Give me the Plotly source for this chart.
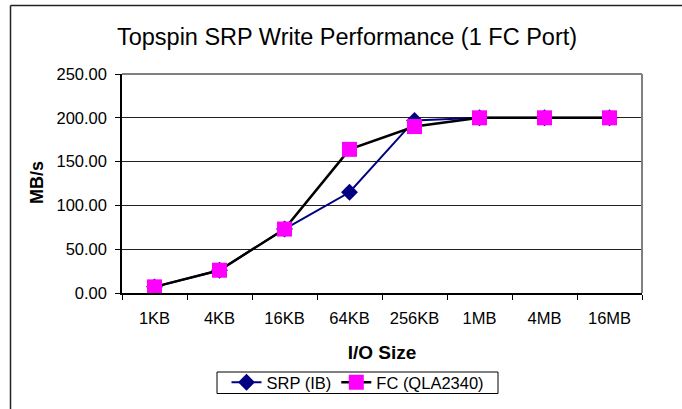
import plotly.graph_objects as go

categories = ["1KB", "4KB", "16KB", "64KB", "256KB", "1MB", "4MB", "16MB"]
srp_ib = [7, 26, 73, 115, 197, 200, 200, 200]
fc_qla2340 = [7, 26, 73, 164, 190, 200, 200, 200]

fig = go.Figure()
fig.add_trace(go.Scatter(
    x=categories, y=srp_ib, name="SRP (IB)", mode="lines+markers",
    line=dict(color="#000080", width=2),
    marker=dict(symbol="diamond", size=13, color="#000080"),
))
fig.add_trace(go.Scatter(
    x=categories, y=fc_qla2340, name="FC (QLA2340)", mode="lines+markers",
    line=dict(color="#000000", width=2.5),
    marker=dict(symbol="square", size=15, color="#FF00FF"),
))

W, H = 682, 409
L, R, T, B = 122, 40, 74, 116
pw, ph = W - L - R, H - T - B

def px_x(x):
    return (x - L) / pw

def px_y(y):
    return (H - B - y) / ph

fig.update_layout(
    width=W, height=H,
    margin=dict(l=L, r=R, t=T, b=B, autoexpand=False),
    paper_bgcolor="white", plot_bgcolor="white",
    font=dict(family="Liberation Sans, Arial, sans-serif", color="black", size=16.5),
    title=dict(text="Topspin SRP Write Performance (1 FC Port)",
               font=dict(size=23.5), x=347 / W, xref="container", xanchor="center",
               y=1 - 37 / H, yref="container", yanchor="middle"),
    showlegend=True,
    legend=dict(orientation="h", x=358 / W, xanchor="center",
                y=1 - 382.5 / H, yanchor="middle", xref="container", yref="container",
                borderwidth=0, bgcolor="rgba(0,0,0,0)",
                font=dict(size=16.5), tracegroupgap=0),
    xaxis=dict(
        type="category", range=[-0.5, 7.5], automargin=False,
        showline=True, linecolor="black", linewidth=1.5,
        ticks="outside", tickson="boundaries", ticklen=5, tickcolor="black",
        showgrid=False, ticklabelstandoff=9,
        title=dict(text="<b>I/O Size</b>", font=dict(size=19), standoff=20),
    ),
    yaxis=dict(
        range=[0, 250], dtick=50, tickformat=".2f", automargin=False,
        showline=True, linecolor="black", linewidth=1.5,
        ticks="outside", ticklen=5, tickcolor="black", ticklabelstandoff=5,
        showgrid=True, gridcolor="#222222", gridwidth=1,
        zeroline=False,
    ),
    annotations=[
        dict(text="<b>MB/s</b>", xref="paper", yref="paper",
             x=px_x(37), y=px_y(183), xanchor="center", yanchor="middle",
             textangle=-90, showarrow=False, font=dict(size=18)),
    ],
    shapes=[
        dict(type="line", xref="paper", yref="paper", x0=0, x1=1, y0=1, y1=1,
             line=dict(color="#808080", width=2)),
        dict(type="line", xref="paper", yref="paper", x0=1, x1=1, y0=0, y1=1,
             line=dict(color="#808080", width=2)),
        dict(type="line", xref="paper", yref="paper",
             x0=px_x(10.5), x1=px_x(682), y0=px_y(5.5), y1=px_y(5.5),
             line=dict(color="#222222", width=1.5), layer="above"),
        dict(type="line", xref="paper", yref="paper",
             x0=px_x(10.5), x1=px_x(10.5), y0=px_y(5.5), y1=px_y(409),
             line=dict(color="#222222", width=1.5), layer="above"),
        dict(type="rect", xref="paper", yref="paper",
             x0=px_x(217), x1=px_x(498), y0=px_y(372), y1=px_y(393.5),
             line=dict(color="black", width=1), layer="above"),
    ],
)

fig.write_html("out.html", config={"displayModeBar": False},
               post_script="document.body.style.margin='0';")
